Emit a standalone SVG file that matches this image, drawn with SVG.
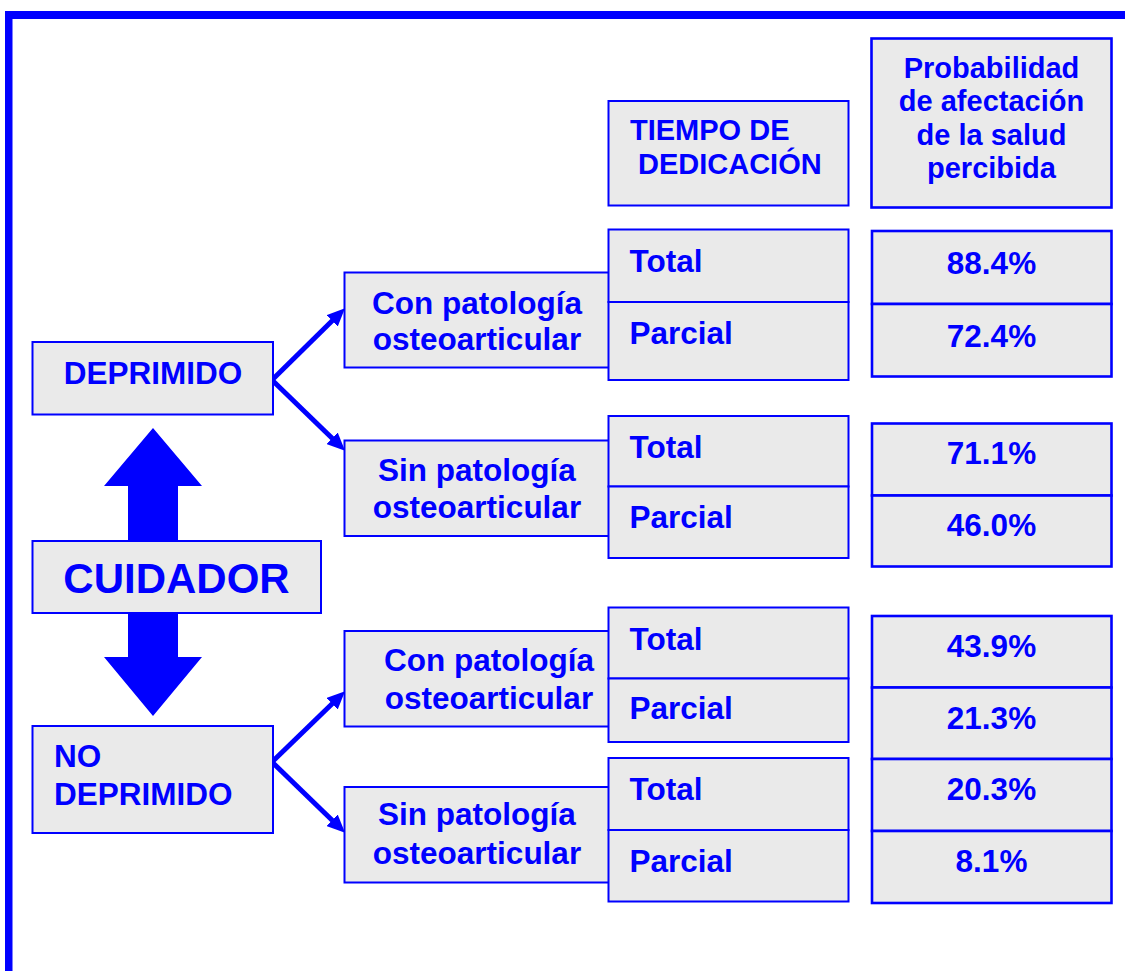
<svg xmlns="http://www.w3.org/2000/svg" width="1125" height="971" viewBox="0 0 1125 971">
<style>
.box{fill:#EAEAEA;stroke:#0000FF;stroke-width:2}
.pbox{fill:#EAEAEA;stroke:#0000FF;stroke-width:2.6}
text{font-family:"Liberation Sans",Arial,sans-serif;font-weight:bold;fill:#0000FF;font-size:31.5px}
.c{text-anchor:middle}
.h{font-size:29px}
.big{font-size:42px}
.conn{stroke:#0000FF;stroke-width:5;fill:none}
</style>
<defs>
<marker id="ah" markerUnits="userSpaceOnUse" viewBox="0 0 18 16" markerWidth="18" markerHeight="16" refX="4" refY="8" orient="auto">
<path d="M0,0 L18,8 L0,16 z" fill="#0000FF"/>
</marker>
</defs>
<rect width="1125" height="971" fill="#FFFFFF"/>
<g id="frame">
<rect x="5" y="11" width="1120" height="8" fill="#0000FF"/>
<rect x="5" y="11" width="7.5" height="960" fill="#0000FF"/>
</g>
<g id="connectors">
<line class="conn" x1="272" y1="380" x2="335" y2="318" marker-end="url(#ah)"/>
<line class="conn" x1="272" y1="380" x2="335" y2="441" marker-end="url(#ah)"/>
<line class="conn" x1="272" y1="762" x2="335" y2="701" marker-end="url(#ah)"/>
<line class="conn" x1="272" y1="762" x2="335" y2="823" marker-end="url(#ah)"/>
<polygon points="153,428 202,486 178,486 178,541 128,541 128,486 104,486" fill="#0000FF"/>
<polygon points="128,613 178,613 178,657 202,657 153,716 104,657 128,657" fill="#0000FF"/>
</g>
<g id="deprimido">
<rect class="box" x="32.5" y="342" width="240.5" height="72.5"/>
<text class="c" x="153" y="384">DEPRIMIDO</text>
</g>
<g id="cuidador">
<rect class="box" x="32.5" y="541" width="288.5" height="72"/>
<text class="c big" x="176.5" y="592.5">CUIDADOR</text>
</g>
<g id="no-deprimido">
<rect class="box" x="32.5" y="726" width="240.5" height="107"/>
<text x="54" y="766.5">NO</text>
<text x="54" y="804.5">DEPRIMIDO</text>
</g>
<g id="con1">
<rect class="box" x="344.5" y="272.5" width="265" height="95"/>
<text class="c" x="477" y="313.5">Con patología</text>
<text class="c" x="477" y="350">osteoarticular</text>
</g>
<g id="sin1">
<rect class="box" x="344.5" y="440.5" width="265" height="95.5"/>
<text class="c" x="477" y="480.5">Sin patología</text>
<text class="c" x="477" y="517.5">osteoarticular</text>
</g>
<g id="con2">
<rect class="box" x="344.5" y="631" width="265" height="95.5"/>
<text class="c" x="489" y="671">Con patología</text>
<text class="c" x="489" y="708.5">osteoarticular</text>
</g>
<g id="sin2">
<rect class="box" x="344.5" y="787" width="265" height="95.5"/>
<text class="c" x="477" y="825">Sin patología</text>
<text class="c" x="477" y="863.5">osteoarticular</text>
</g>
<g id="tiempo-header">
<rect class="box" x="608.5" y="101" width="240" height="104.5"/>
<text class="h" x="630" y="139.5">TIEMPO DE</text>
<text class="h" x="638" y="174">DEDICACIÓN</text>
</g>
<g id="prob-header">
<rect class="pbox" x="871.5" y="38.5" width="240" height="169"/>
<text class="c h" x="991.5" y="77.5">Probabilidad</text>
<text class="c h" x="991.5" y="111">de afectación</text>
<text class="c h" x="991.5" y="144.5">de la salud</text>
<text class="c h" x="991.5" y="177.5">percibida</text>
</g>
<g id="tiempo1">
<rect class="box" x="608.5" y="229.5" width="240" height="72.5"/>
<rect class="box" x="608.5" y="302" width="240" height="78"/>
<text x="629.5" y="271.5">Total</text>
<text x="629.5" y="344">Parcial</text>
</g>
<g id="tiempo2">
<rect class="box" x="608.5" y="416" width="240" height="70.5"/>
<rect class="box" x="608.5" y="486.5" width="240" height="71.5"/>
<text x="629.5" y="457.5">Total</text>
<text x="629.5" y="527.5">Parcial</text>
</g>
<g id="tiempo3">
<rect class="box" x="608.5" y="607.5" width="240" height="71"/>
<rect class="box" x="608.5" y="678.5" width="240" height="63.5"/>
<text x="629.5" y="649.5">Total</text>
<text x="629.5" y="718.5">Parcial</text>
</g>
<g id="tiempo4">
<rect class="box" x="608.5" y="758" width="240" height="72"/>
<rect class="box" x="608.5" y="830" width="240" height="71.5"/>
<text x="629.5" y="799.5">Total</text>
<text x="629.5" y="871.5">Parcial</text>
</g>
<g id="prob1">
<rect class="pbox" x="872" y="231" width="239.5" height="73"/>
<rect class="pbox" x="872" y="304" width="239.5" height="72.5"/>
<text class="c" x="991.5" y="273.5">88.4%</text>
<text class="c" x="991.5" y="346.5">72.4%</text>
</g>
<g id="prob2">
<rect class="pbox" x="872" y="423.5" width="239.5" height="72"/>
<rect class="pbox" x="872" y="495.5" width="239.5" height="71"/>
<text class="c" x="991.5" y="464">71.1%</text>
<text class="c" x="991.5" y="536">46.0%</text>
</g>
<g id="prob3">
<rect class="pbox" x="872" y="616" width="239.5" height="71.5"/>
<rect class="pbox" x="872" y="687.5" width="239.5" height="71.5"/>
<text class="c" x="991.5" y="656.5">43.9%</text>
<text class="c" x="991.5" y="728.5">21.3%</text>
</g>
<g id="prob4">
<rect class="pbox" x="872" y="759" width="239.5" height="72"/>
<rect class="pbox" x="872" y="831" width="239.5" height="72"/>
<text class="c" x="991.5" y="800">20.3%</text>
<text class="c" x="991.5" y="872">8.1%</text>
</g>
</svg>
